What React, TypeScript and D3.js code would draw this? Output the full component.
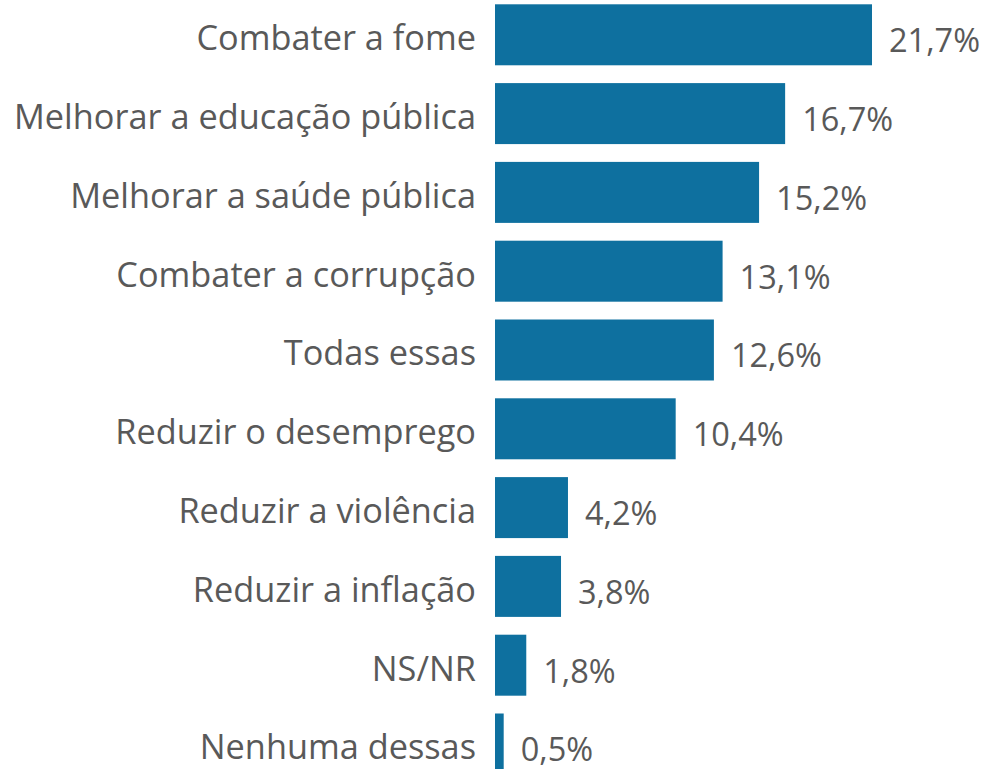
import React from "react";
import * as d3 from "d3";

const categories = [
  "Combater a fome",
  "Melhorar a educação pública",
  "Melhorar a saúde pública",
  "Combater a corrupção",
  "Todas essas",
  "Reduzir o desemprego",
  "Reduzir a violência",
  "Reduzir a inflação",
  "NS/NR",
  "Nenhuma dessas",
];
const values = [21.7, 16.7, 15.2, 13.1, 12.6, 10.4, 4.2, 3.8, 1.8, 0.5];
const valueLabels = ["21,7%", "16,7%", "15,2%", "13,1%", "12,6%", "10,4%", "4,2%", "3,8%", "1,8%", "0,5%"];

const W = 985;
const H = 769;
const BAR = "#0e709f";
const TEXT = "#595959";
const FONT = "'Open Sans', 'DejaVu Sans', sans-serif";

export default function App() {
  const x = d3.scaleLinear().domain([0, 21.7]).range([495, 872]);
  const y = d3
    .scaleBand<string>()
    .domain(categories)
    .range([4.3, 4.3 + 78.8 * (10 - 0.226)])
    .paddingInner(0.226)
    .paddingOuter(0);

  return (
    <svg
      width={W}
      height={H}
      style={{ position: "absolute", left: 0, top: 0, display: "block", background: "#fff" }}
    >
      {categories.map((c, i) => {
        const y0 = y(c)!;
        const bw = y.bandwidth();
        const cy = y0 + bw / 2;
        return (
          <g key={c}>
            <rect x={x(0)} y={y0} width={x(values[i]) - x(0)} height={bw} fill={BAR} />
            <text
              x={476}
              y={cy + 2}
              textAnchor="end"
              dominantBaseline="central"
              fontFamily={FONT}
              fontSize={34.3}
              fill={TEXT}
            >
              {c}
            </text>
            <text
              x={x(values[i]) + 17}
              y={cy + 5}
              dominantBaseline="central"
              fontFamily={FONT}
              fontSize={32.5}
              fill={TEXT}
            >
              {valueLabels[i]}
            </text>
          </g>
        );
      })}
    </svg>
  );
}
